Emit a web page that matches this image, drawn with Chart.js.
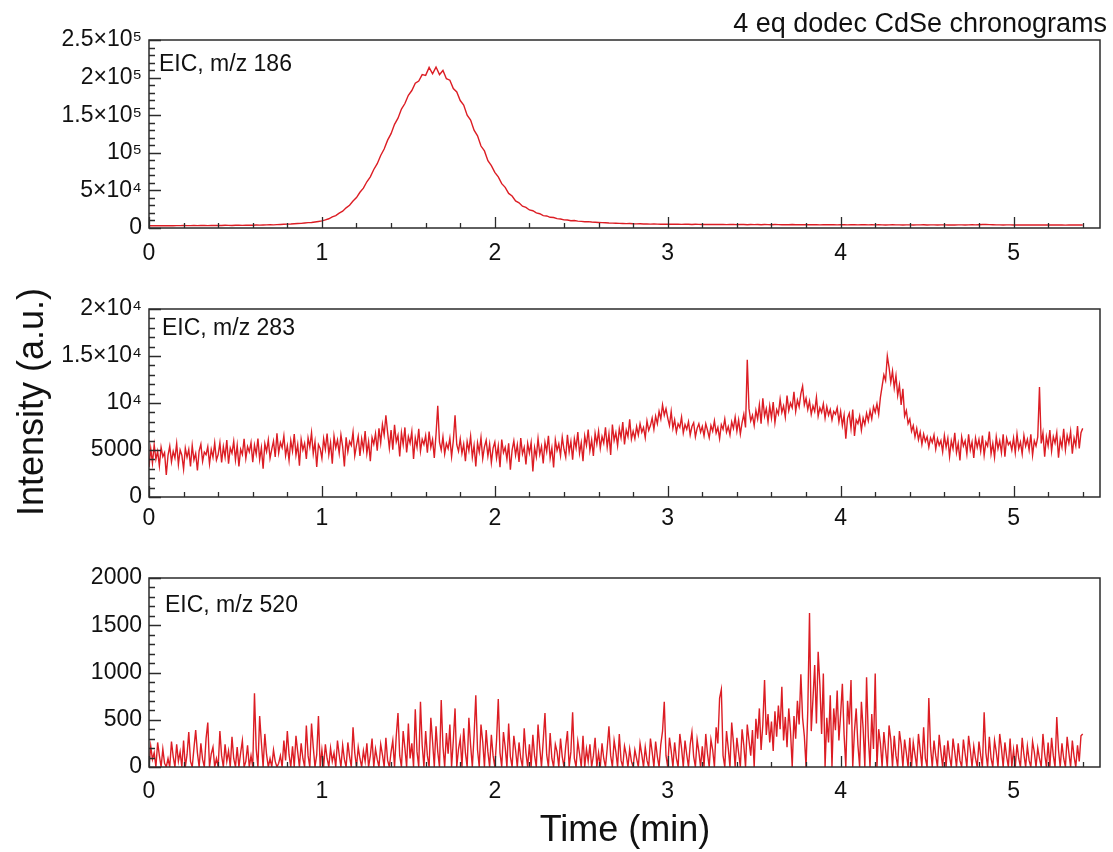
<!DOCTYPE html>
<html><head><meta charset="utf-8">
<script src="https://cdn.jsdelivr.net/npm/chart.js@4.4.1/dist/chart.umd.min.js"></script>
<style>
html,body{margin:0;padding:0;background:#fff;width:1113px;height:852px;overflow:hidden;font-family:"Liberation Sans",Arial,sans-serif;color:#111}
canvas{position:absolute;left:0}
.t{position:absolute;line-height:1;white-space:nowrap;color:#111}
</style></head><body>
<canvas id="c1" width="1113" height="270" style="top:0px"></canvas>
<canvas id="c2" width="1113" height="270" style="top:270px"></canvas>
<canvas id="c3" width="1113" height="270" style="top:540px"></canvas>
<div class="t" style="right:6px;top:10px;font-size:27px">4 eq dodec CdSe chronograms</div>
<div class="t" style="left:159px;top:52px;font-size:23px">EIC, m/z 186</div>
<div class="t" style="left:162px;top:316px;font-size:23px">EIC, m/z 283</div>
<div class="t" style="left:165px;top:593px;font-size:23px">EIC, m/z 520</div>
<div class="t" style="left:0;width:1250px;top:811px;font-size:36px;text-align:center">Time (min)</div>
<div class="t" style="left:-119px;width:300px;top:384px;font-size:36px;text-align:center;transform:rotate(-90deg)">Intensity (a.u.)</div>
<script>
// sampling step (min) of each chronogram
const timeStep186 = 0.02;
const timeStep = 0.01;

// EIC m/z 186, t = 0 .. 5.40 min, step 0.02
const eic186 = [
3000,3100,2900,3000,3200,3000,3100,3000,3200,3100,
3300,3100,3200,3300,3200,3400,3300,3200,3400,3500,
3300,3400,3600,3500,3400,3600,3700,3500,3600,3800,
3700,3900,3800,4000,4100,4300,4200,4500,4700,4900,
5200,5300,5700,6000,6200,6600,7100,7400,8000,8700,
9500,10800,12300,14700,16500,19800,22400,26800,30200,35900,
40500,47500,53000,61500,68000,77800,85500,96500,105000,116800,
125500,137800,146000,158200,165500,176500,182800,192500,195500,204000,
203000,213500,205000,214000,204000,209500,198500,196500,185500,181000,
169500,163500,150000,143500,130000,122500,109000,102500,89500,83000,
74000,68000,59000,54000,46000,42500,36000,33500,29000,27500,
24000,23000,20000,19000,16500,16000,14200,14000,12500,12000,
10800,10600,9700,9900,9100,8800,8300,8500,7900,7600,
7300,7100,6900,6600,6500,6300,6200,6000,5800,5900,
5600,5500,5600,5300,5400,5200,5300,5100,5000,5200,
5000,4900,5100,4900,4800,5000,4900,4700,4900,4800,
4700,4800,4600,4800,4700,4600,4800,4500,4700,4600,
4500,4700,4600,4400,4600,4500,4700,4400,4600,4500,
4400,4600,4500,4300,4500,4400,4600,4400,4300,4500,
4400,4300,4500,4400,4200,4400,4500,4300,4400,4200,
4400,4300,4200,4400,4300,4100,4300,4400,4200,4300,
4100,4300,4200,4000,4200,4300,4100,4200,4000,4200,
4100,4000,4200,4100,4300,4000,4100,4200,4000,4100,
4200,4000,4100,3900,4100,4200,4000,4100,4300,4100,
4400,4600,4800,4500,4300,4200,4100,4000,4200,4100,
3900,4100,4000,4200,3900,4000,4100,3900,4100,4000,
3900,4000,4100,3900,4000,3800,4000,4100,3900,4000,
4000];

// EIC m/z 283, t = 0 .. 5.40 min, step 0.01
const eic283 = [
3180,5140,3600,5560,4020,4860,3320,5280,4300,4720,2340,4440,5420,3740,4860,4160,5700,3460,5000,4440,
2960,5200,4220,5060,3240,5480,3940,4640,2820,4920,5620,3800,4780,4500,5340,3520,5060,4220,5760,3940,
4520,5780,3680,5360,4240,6060,3540,5220,4660,5920,3960,5500,3260,5080,4520,6200,4100,5360,4800,5780,
3700,5520,4540,6220,3980,5240,3000,5660,4820,6080,4120,5100,5940,4260,6780,4680,5800,5240,6500,4400,
5440,3900,6000,4880,6700,4460,5580,3340,6140,5020,5720,4040,6280,5300,6840,4600,5860,3200,5580,5160,
4100,6200,5080,6760,4520,5780,3540,6480,5220,6060,4660,6620,5360,3260,6340,4800,5920,5500,6900,4380,
5480,6460,4360,6180,5060,7020,4640,5900,3800,6320,5620,6740,4920,7300,5760,7720,6600,8700,6880,5200,
7120,5020,7680,5860,6560,4320,6840,5580,7400,4740,6420,5720,6980,4040,6280,5300,7260,4880,6140,5580,
6540,4720,6960,5280,6120,4160,6680,9700,5840,5000,6400,4580,5700,5140,6260,4300,5980,8700,5560,4860,
6180,4640,5620,3800,5900,4920,6460,4220,5480,3240,5760,4780,6320,4080,5340,6040,4360,5620,3660,5200,
5840,4160,5420,3180,6120,4720,5280,4020,5700,2900,5000,5980,4440,5560,3740,6260,4580,5280,3460,5700,
4680,5800,2720,5240,4260,6220,4540,5380,3560,5800,4820,6500,4120,5240,3140,6080,4960,5660,4400,6360,
5080,4240,6620,4800,5920,3960,6200,5220,6900,4660,5780,3820,6480,5500,7180,4940,6060,4380,6760,5640,
7000,5180,6440,5740,7420,5320,6720,4480,7700,6020,6860,5460,7280,6300,7980,5600,7140,6440,8260,6160,
7000,6200,7500,6600,7800,6900,7400,6300,8100,7100,7600,8400,7200,8600,7800,9100,8300,9800,8700,9400,
8400,7600,9100,7300,8200,6900,7800,7400,8500,6800,7700,7200,8000,6600,7500,7900,6400,7300,7800,6900,
7500,6500,7800,7100,6300,7600,7000,8100,6800,7400,6200,7700,7200,8300,6900,7500,6600,8000,7300,8500,
7000,8200,6700,7900,8800,7400,14600,9400,8100,8700,7600,9200,8300,9800,7800,10500,8600,9400,8000,9700,
8400,10100,7900,9300,8800,10400,9000,9700,8500,10800,9200,10000,9500,11200,9100,10300,9600,11000,11800,9800,
10500,9300,10200,8800,9700,9100,10600,8600,9500,9000,9900,8400,9600,8700,9300,8200,9100,8800,9500,8000,
9100,7600,8700,6200,8400,8900,7300,9300,6500,8200,7800,8600,7100,8400,7700,8900,8100,9200,8300,9600,
9000,9900,8800,10600,11800,13000,12400,15000,13800,12200,13400,11600,12900,10800,11900,9800,11500,8600,9200,7800,
8300,7000,7600,6400,7300,6100,6900,5600,6700,5900,6400,5300,6300,5800,6600,5100,6200,5500,6000,4800,
6540,5280,6260,4300,5980,5140,6820,4720,5700,3880,6400,5420,5980,4580,6680,5000,5840,4160,6260,5280,
6120,4860,6540,4440,5840,5420,6960,4580,5700,4220,6400,5140,5980,4720,6680,4300,6260,5560,5840,5000,
6260,4720,6680,5140,5840,4580,6540,5420,6120,5000,6680,4440,5980,5420,6400,11700,5700,6820,4300,6400,
5440,7120,4880,6420,5720,6840,4180,6140,5300,7260,5020,6560,5720,6980,4600,6280,5440,7540,5160,6840,
7300];

// EIC m/z 520, t = 0 .. 5.40 min, step 0.01
const eic520 = [
0,220,80,150,0,260,120,0,190,40,0,90,0,270,110,0,240,60,160,0,
280,0,130,370,60,0,200,390,150,0,250,80,0,300,470,0,140,210,0,90,
0,380,120,0,240,60,170,0,320,90,0,210,0,150,280,0,60,230,0,120,
0,780,190,0,540,260,0,350,130,0,90,0,180,60,0,40,120,0,280,70,
380,130,0,220,0,330,160,0,250,90,0,440,120,0,460,210,0,130,540,0,
180,0,240,90,0,200,60,150,0,280,130,0,230,80,0,260,110,0,420,150,
0,210,90,0,170,60,250,0,120,300,0,190,80,0,240,130,0,310,70,0,
160,280,0,330,570,120,0,380,200,0,460,90,250,0,610,160,0,690,230,0,
380,120,0,520,270,0,430,160,0,710,220,0,360,140,450,0,280,620,0,190,
300,0,410,150,0,520,230,0,330,760,180,0,450,270,0,390,160,0,340,120,
0,280,720,150,0,370,210,0,460,110,0,330,180,0,260,90,0,410,150,0,
240,0,340,120,0,450,200,0,280,570,130,0,360,90,0,240,160,0,300,110,
0,220,380,0,160,580,90,0,270,140,0,330,0,190,60,240,0,120,310,0,
150,0,250,90,0,200,430,120,0,280,160,0,350,70,0,220,130,0,190,60,
0,180,90,0,250,130,0,210,70,0,300,160,0,270,110,0,240,380,690,120,
0,310,170,0,260,90,0,350,200,0,280,130,0,240,370,110,0,290,160,0,
220,0,350,140,0,290,180,0,420,250,730,820,120,0,380,200,0,470,260,0,
310,150,0,400,230,0,450,280,120,390,0,510,300,620,180,450,920,340,560,260,
480,170,590,320,650,400,850,280,530,210,620,380,0,540,300,700,450,980,520,330,
0,600,1630,380,720,1080,460,1220,870,350,990,0,520,260,760,0,620,390,810,280,
560,880,340,0,700,450,920,0,380,620,230,0,690,410,0,950,320,0,560,190,
990,0,400,250,0,370,180,0,440,290,0,330,120,0,380,240,0,290,150,0,
310,0,260,130,0,350,180,0,420,90,0,730,210,0,280,120,0,340,160,0,
230,0,280,110,0,300,160,0,250,70,0,290,140,0,330,180,0,220,90,0,
270,120,0,580,150,0,320,90,0,280,160,0,350,200,0,260,110,0,300,0,
180,0,240,90,0,310,130,0,220,70,0,270,160,0,200,90,0,350,140,0,
260,0,310,120,0,530,180,0,250,90,0,320,150,0,280,110,0,230,60,330,
350];

// tick labels
const xTickLabels = ['0','1','2','3','4','5'];
const yTickLabels186 = ['0','5×10⁴','10⁵','1.5×10⁵','2×10⁵','2.5×10⁵'];
const yTickLabels283 = ['0','5000','10⁴','1.5×10⁴','2×10⁴'];
const yTickLabels520 = ['0','500','1000','1500','2000'];

const LINE_COLOR = '#dc1d24';
const FONT = {family:'"Liberation Sans", Arial, sans-serif', size:23};

function isMajor(v, m){ const q = v / m; return Math.abs(q - Math.round(q)) < 1e-6; }
function toPoints(vals, step){ return vals.map((v, i) => ({x: Math.round(i * step * 100) / 100, y: v})); }

const frameTicks = {
  id: 'frameTicks',
  afterDatasetsDraw(chart, args, opts){
    const {ctx, chartArea: a} = chart;
    const x = chart.scales.x, y = chart.scales.y;
    ctx.save();
    ctx.strokeStyle = '#2b2b2b';
    ctx.lineWidth = 1.5;
    ctx.strokeRect(a.left, a.top, a.right - a.left, a.bottom - a.top);
    ctx.lineWidth = 1.3;
    ctx.beginPath();
    x.ticks.forEach(t => {
      const px = Math.round(x.getPixelForValue(t.value)) + 0.5;
      const len = isMajor(t.value, 1) ? 11 : 5;
      ctx.moveTo(px, a.bottom); ctx.lineTo(px, a.bottom - len);
    });
    y.ticks.forEach(t => {
      const py = Math.round(y.getPixelForValue(t.value)) + 0.5;
      const len = isMajor(t.value, opts.yMajor) ? 12 : 6;
      ctx.moveTo(a.left, py); ctx.lineTo(a.left + len, py);
    });
    ctx.stroke();
    ctx.restore();
  }
};

function makeChart(id, vals, step, cfg){
  return new Chart(document.getElementById(id), {
    type: 'line',
    data: {datasets: [{data: toPoints(vals, step), borderColor: LINE_COLOR, borderWidth: cfg.lw,
      pointRadius: 0, tension: 0, fill: false}]},
    options: {
      responsive: false, animation: false, events: [],
      layout: {padding: {top: cfg.padTop, right: 13, left: 0, bottom: 0}},
      plugins: {legend: {display: false}, tooltip: {enabled: false}, frameTicks: {yMajor: cfg.yMajor}},
      scales: {
        x: {type: 'linear', min: 0, max: 5.5,
          grid: {display: false, drawTicks: false}, border: {display: false},
          ticks: {stepSize: 0.2, includeBounds: false, autoSkip: false, maxRotation: 0, minRotation: 0,
            padding: cfg.xPad, color: '#111', font: FONT,
            callback: v => isMajor(v, 1) ? xTickLabels[Math.round(v)] : ''},
          afterFit: s => { s.height = cfg.xHeight; }},
        y: {type: 'linear', min: 0, max: cfg.yMax,
          grid: {display: false, drawTicks: false}, border: {display: false},
          ticks: {stepSize: cfg.yMinor, includeBounds: false, autoSkip: false, padding: 7, color: '#111', font: FONT,
            callback: v => isMajor(v, cfg.yMajor) ? cfg.yLabels[Math.round(v / cfg.yMajor)] : ''},
          afterFit: s => { s.width = 149; }}
      }
    },
    plugins: [frameTicks]
  });
}

makeChart('c1', eic186, timeStep186, {padTop: 40, xHeight: 42, xPad: 12, yMax: 250000, yMinor: 10000, yMajor: 50000, yLabels: yTickLabels186, lw: 1.4});
makeChart('c2', eic283, timeStep, {padTop: 39, xHeight: 43, xPad: 8, yMax: 20000, yMinor: 1000, yMajor: 5000, yLabels: yTickLabels283, lw: 1.4});
makeChart('c3', eic520, timeStep, {padTop: 38, xHeight: 43, xPad: 11, yMax: 2000, yMinor: 100, yMajor: 500, yLabels: yTickLabels520, lw: 1.4});
</script>
</body></html>
